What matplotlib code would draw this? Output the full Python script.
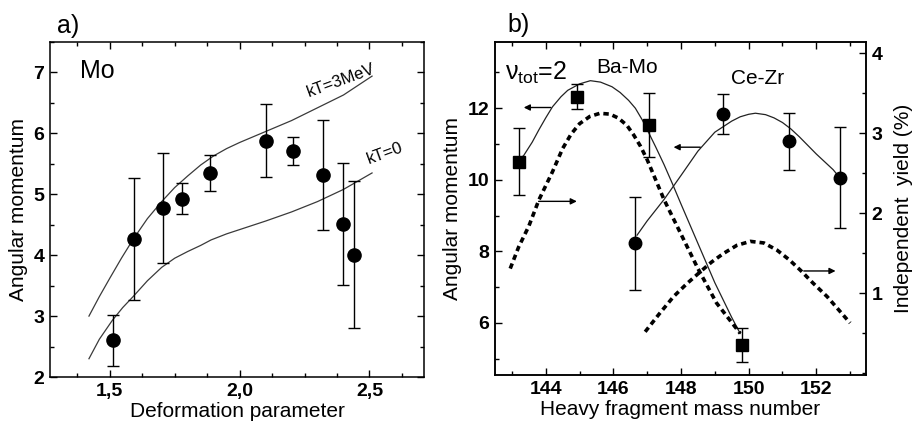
import matplotlib
matplotlib.use("Agg")
import matplotlib.pyplot as plt
from matplotlib.ticker import MultipleLocator, FixedFormatter, FixedLocator

plt.rcParams['font.family'] = ['Liberation Sans', 'DejaVu Sans']
plt.rcParams['mathtext.fontset'] = 'custom'
plt.rcParams['mathtext.rm'] = 'Liberation Sans'
plt.rcParams['mathtext.it'] = 'Liberation Sans'

# ---- panel a data: Mo ----
beta = [1.513, 1.592, 1.705, 1.780, 1.887, 2.101, 2.206, 2.320, 2.400, 2.440]
spin_mo = [2.60, 4.27, 4.77, 4.93, 5.35, 5.88, 5.71, 5.32, 4.51, 4.01]
spin_mo_err = [0.42, 1.0, 0.9, 0.25, 0.3, 0.6, 0.23, 0.9, 1.0, 1.2]

kt3_x = [1.42, 1.46, 1.50, 1.545, 1.59, 1.645, 1.70, 1.75, 1.80, 1.85, 1.90, 1.95,
         2.00, 2.10, 2.20, 2.30, 2.40, 2.51]
kt3_y = [3.00, 3.32, 3.62, 3.95, 4.26, 4.60, 4.88, 5.11, 5.30, 5.48, 5.63, 5.75,
         5.85, 6.03, 6.21, 6.42, 6.63, 6.94]
kt0_x = [1.42, 1.46, 1.51, 1.55, 1.59, 1.645, 1.70, 1.75, 1.80, 1.85, 1.89, 1.95,
         2.00, 2.10, 2.20, 2.30, 2.40, 2.51]
kt0_y = [2.30, 2.62, 2.93, 3.14, 3.32, 3.58, 3.80, 3.95, 4.06, 4.16, 4.25, 4.35,
         4.42, 4.56, 4.71, 4.88, 5.08, 5.35]

# ---- panel b data ----
mass_bamo = [143.2, 144.92, 147.06, 149.80]
spin_bamo = [10.51, 12.32, 11.53, 5.38]
spin_bamo_err = [0.93, 0.35, 0.89, 0.48]

mass_cezr = [146.65, 149.23, 151.18, 152.69]
spin_cezr = [8.22, 11.84, 11.07, 10.06]
spin_cezr_err = [1.29, 0.55, 0.80, 1.41]

fit_bamo_x = [143.2, 143.35, 143.6, 143.8, 144.0, 144.2, 144.45, 144.65, 145.0, 145.32,
              145.62, 145.96, 146.2, 146.45, 146.65, 146.85, 147.0, 147.25, 147.5, 147.75,
              148.0, 148.5, 149.0, 149.5, 149.75]
fit_bamo_y = [10.55, 10.68, 11.05, 11.40, 11.73, 12.04, 12.32, 12.50, 12.68, 12.77,
              12.73, 12.60, 12.44, 12.22, 12.00, 11.68, 11.40, 10.92, 10.42, 9.88,
              9.32, 8.22, 7.12, 6.15, 5.70]

fit_cezr_x = [146.7, 147.0, 147.5, 148.0, 148.5, 149.0, 149.5, 149.75, 150.0, 150.2,
              150.5, 150.75, 151.0, 151.25, 151.5, 152.0, 152.5, 152.69]
fit_cezr_y = [8.45, 8.85, 9.45, 10.12, 10.80, 11.33, 11.64, 11.76, 11.83, 11.86,
              11.82, 11.73, 11.60, 11.42, 11.20, 10.72, 10.28, 10.06]

yield_bamo_x = [142.95, 143.2, 143.5, 143.8, 144.2, 144.5, 144.75, 145.0, 145.3, 145.6,
                145.9, 146.15, 146.4, 146.6, 146.8, 147.0, 147.5, 148.0, 148.5, 149.05,
                149.75]
yield_bamo_y = [1.31, 1.58, 1.84, 2.17, 2.52, 2.81, 2.99, 3.12, 3.21, 3.25,
                3.24, 3.19, 3.10, 2.98, 2.84, 2.67, 2.17, 1.74, 1.31, 0.88,
                0.50]

yield_cezr_x = [146.94, 147.35, 147.78, 148.17, 148.57, 148.9, 149.26, 149.65, 150.05,
                150.45, 150.84, 151.2, 151.53, 151.9, 152.32, 152.65, 153.0]
yield_cezr_y = [0.52, 0.74, 0.96, 1.12, 1.27, 1.39, 1.50, 1.60, 1.65,
                1.63, 1.54, 1.42, 1.29, 1.13, 0.96, 0.80, 0.63]

fig = plt.figure(figsize=(9.13, 4.28), dpi=100)


def style_axes(ax, right=True):
    for s in ax.spines.values():
        s.set_linewidth(1.1)
    ax.tick_params(which='both', direction='in', top=True, right=right,
                   labelsize=14, width=1.0, pad=4)
    ax.tick_params(which='major', length=5)
    ax.tick_params(which='minor', length=3)
    for lab in ax.get_xticklabels() + ax.get_yticklabels():
        lab.set_fontweight('bold')


# ================= panel a =================
ax1 = fig.add_axes([50 / 913, 51 / 428, 374 / 913, 335 / 428])
ax1.plot(kt3_x, kt3_y, color='#3a3a3a', lw=0.9)
ax1.plot(kt0_x, kt0_y, color='#3a3a3a', lw=0.9)
ax1.errorbar(beta, spin_mo, yerr=spin_mo_err, fmt='o', color='black',
             ms=9.5, capsize=4.5, elinewidth=1.0, capthick=1.0)
ax1.set_xlim(1.27, 2.71)
ax1.set_ylim(2, 7.5)
ax1.xaxis.set_major_locator(FixedLocator([1.5, 2.0, 2.5]))
ax1.xaxis.set_major_formatter(FixedFormatter(['1,5', '2,0', '2,5']))
ax1.xaxis.set_minor_locator(MultipleLocator(0.125))
ax1.yaxis.set_major_locator(MultipleLocator(1))
ax1.yaxis.set_minor_locator(MultipleLocator(0.5))
style_axes(ax1)
ax1.set_xlabel('Deformation parameter', fontsize=15, labelpad=2)
ax1.set_ylabel('Angular momentum', fontsize=15, labelpad=4)
ax1.text(1.385, 7.02, 'Mo', fontsize=18, ha='left', va='center')
ax1.text(2.39, 6.86, 'kT=3MeV', fontsize=12, rotation=20, ha='center', va='center')
ax1.text(2.56, 5.67, 'kT=0', fontsize=12, rotation=20, ha='center', va='center')
fig.text(57 / 913, 1 - 33 / 428, 'a)', fontsize=18, ha='left', va='baseline')

# ================= panel b =================
ax2 = fig.add_axes([495 / 913, 53 / 428, 371 / 913, 333.3 / 428])
ax3 = ax2.twinx()

ax2.plot(fit_bamo_x, fit_bamo_y, color='#222222', lw=0.9)
ax2.plot(fit_cezr_x, fit_cezr_y, color='#222222', lw=0.9)
ax2.errorbar(mass_bamo, spin_bamo, yerr=spin_bamo_err, fmt='s', color='black',
             ms=8, capsize=4.5, elinewidth=1.0, capthick=1.0)
ax2.errorbar(mass_cezr, spin_cezr, yerr=spin_cezr_err, fmt='o', color='black',
             ms=9, capsize=4.5, elinewidth=1.0, capthick=1.0)

ax3.plot(yield_bamo_x, yield_bamo_y, color='black', lw=2.6, dashes=(1.5, 1.1))
ax3.plot(yield_cezr_x, yield_cezr_y, color='black', lw=2.6, dashes=(1.5, 1.1))

arrow = dict(arrowstyle='-|>', color='black', lw=1.0, mutation_scale=9, shrinkA=0, shrinkB=0)
ax2.annotate('', xy=(143.35, 12.02), xytext=(144.15, 12.02), arrowprops=arrow)
ax2.annotate('', xy=(147.78, 10.91), xytext=(148.57, 10.91), arrowprops=arrow)
ax3.annotate('', xy=(144.92, 2.15), xytext=(143.79, 2.15), arrowprops=arrow)
ax3.annotate('', xy=(152.57, 1.28), xytext=(151.63, 1.28), arrowprops=arrow)

ax2.set_xlim(142.5, 153.47)
ax2.set_ylim(4.54, 13.86)
ax3.set_ylim(-0.02, 4.145)
ax2.xaxis.set_major_locator(MultipleLocator(2))
ax2.xaxis.set_minor_locator(MultipleLocator(1))
ax2.yaxis.set_major_locator(FixedLocator([6, 8, 10, 12]))
ax2.yaxis.set_minor_locator(MultipleLocator(1))
ax3.yaxis.set_major_locator(FixedLocator([1, 2, 3, 4]))
ax3.yaxis.set_minor_locator(MultipleLocator(0.5))
style_axes(ax2, right=False)
ax2.tick_params(which='both', right=False)
style_axes(ax3)
ax3.tick_params(which='both', left=False, top=False, labelleft=False)
ax2.set_xlabel('Heavy fragment mass number', fontsize=15, labelpad=2)
ax2.set_ylabel('Angular momentum', fontsize=15, labelpad=4)
ax3.set_ylabel('Independent  yield (%)', fontsize=15, labelpad=8)

ax2.text(142.8, 13.0, r'ν$_{\mathregular{tot}}$=2', fontsize=18, ha='left', va='center')
ax2.text(146.41, 13.15, 'Ba-Mo', fontsize=15, ha='center', va='center')
ax2.text(150.27, 12.82, 'Ce-Zr', fontsize=15, ha='center', va='center')
fig.text(507 / 913, 1 - 32 / 428, 'b)', fontsize=18, ha='left', va='baseline')

fig.savefig('out.png', dpi=100)
